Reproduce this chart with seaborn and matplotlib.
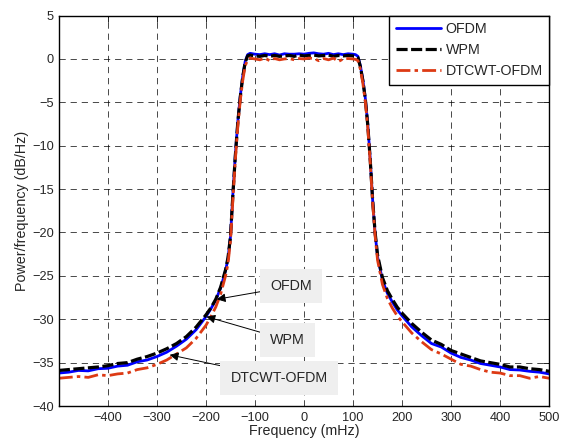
import numpy as np
import pandas as pd
import matplotlib
matplotlib.use("Agg")
import matplotlib.pyplot as plt
import seaborn as sns

freq = [-500, -480, -460, -440, -420, -400, -380, -360, -340, -320, -300, -280, -260, -240,
        -220, -200, -190, -180, -170, -160, -155, -150, -145, -140, -135, -130, -125, -120,
        -115, -110, -100, -90, -80, -70, -60, -50, -40, -30, -20, -10, 0, 10, 20, 30, 40,
        50, 60, 70, 80, 90, 100, 105, 110, 115, 120, 125, 130, 135, 140, 145, 150, 160, 170,
        180, 190, 200, 220, 240, 260, 280, 300, 320, 340, 360, 380, 400, 420, 440, 460, 480, 500]

ofdm = [-36.2, -36.1, -35.9, -35.95, -35.7, -35.65, -35.4, -35.3, -34.9, -34.7, -34.3, -33.8, -33.1, -32.3,
        -31.2, -29.7, -28.8, -27.8, -26.4, -24.4, -23.0, -20.5, -15.5, -11.0, -7.2, -4.3, -2.0, -0.3,
        0.5, 0.65, 0.55, 0.5, 0.6, 0.5, 0.6, 0.45, 0.6, 0.55, 0.55, 0.6, 0.55, 0.65, 0.7, 0.6, 0.55,
        0.65, 0.5, 0.6, 0.5, 0.6, 0.55, 0.5, 0.3, -0.8, -2.4, -4.5, -7.5, -11.5, -16.3, -20.1, -22.8, -25.5, -27.0,
        -28.0, -28.9, -29.6, -30.9, -31.9, -32.8, -33.2, -33.9, -34.4, -34.7, -35.1, -35.3, -35.5, -35.8, -35.85, -36.0, -36.1, -36.3]

wpm = [-35.9, -35.8, -35.7, -35.6, -35.5, -35.35, -35.1, -35.0, -34.6, -34.3, -33.9, -33.4, -32.8, -32.0,
       -30.9, -29.5, -28.7, -27.7, -26.3, -24.3, -22.9, -20.5, -15.6, -11.1, -7.3, -4.4, -2.1, -0.4,
       0.35, 0.45, 0.35, 0.3, 0.4, 0.3, 0.4, 0.3, 0.35, 0.4, 0.3, 0.45, 0.35, 0.4, 0.45, 0.35, 0.4,
       0.45, 0.3, 0.4, 0.35, 0.4, 0.35, 0.3, 0.15, -0.9, -2.5, -4.6, -7.6, -11.6, -16.3, -20.0, -22.6, -25.2, -26.7,
       -27.7, -28.6, -29.3, -30.5, -31.5, -32.4, -32.9, -33.6, -34.0, -34.4, -34.8, -35.0, -35.2, -35.5, -35.5, -35.7, -35.8, -36.0]

dtcwt = [-36.8, -36.7, -36.6, -36.7, -36.4, -36.5, -36.3, -36.2, -35.8, -35.6, -35.2, -34.7, -34.0, -33.3,
         -32.2, -30.7, -29.7, -28.6, -27.1, -25.0, -23.6, -21.0, -16.2, -11.6, -7.8, -4.8, -2.5, -0.8,
         -0.1, 0.1, 0.0, -0.1, 0.1, -0.2, 0.05, -0.1, 0.0, 0.05, -0.1, 0.05, 0.0, 0.1, 0.05, -0.2, 0.05,
         -0.1, 0.1, -0.3, 0.0, 0.05, 0.0, -0.05, -0.2, -1.2, -2.8, -4.9, -7.9, -11.9, -16.6, -20.4, -23.2, -26.0, -27.6,
         -28.7, -29.6, -30.3, -31.6, -32.6, -33.5, -34.0, -34.6, -35.2, -35.4, -35.8, -36.1, -36.2, -36.5, -36.5, -36.8, -36.6, -36.8]

series_names = ["OFDM", "WPM", "DTCWT-OFDM"]
x_ticks = [-400, -300, -200, -100, 0, 100, 200, 300, 400, 500]
y_ticks = [5, 0, -5, -10, -15, -20, -25, -30, -35, -40]

sns.set_style("white")
plt.rcParams["font.family"] = ["Liberation Sans", "DejaVu Sans"]
plt.rcParams["lines.scale_dashes"] = False

df = pd.DataFrame({
    "Frequency": freq * 3,
    "Power": ofdm + wpm + dtcwt,
    "Series": [series_names[0]] * len(freq) + [series_names[1]] * len(freq) + [series_names[2]] * len(freq),
})

fig = plt.figure(figsize=(5.65, 4.45), dpi=100)
ax = fig.add_axes([0.105, 0.0876, 0.867, 0.8774])

styles = {
    "OFDM": dict(color="#0000ff", lw=2.0, linestyle="-"),
    "WPM": dict(color="black", lw=2.3, linestyle=(0, (8, 2.5))),
    "DTCWT-OFDM": dict(color="#dd3a14", lw=2.0, linestyle=(0, (10, 3, 2.5, 3))),
}
for name in series_names:
    sub = df[df["Series"] == name]
    sns.lineplot(data=sub, x="Frequency", y="Power", ax=ax, label=name,
                 estimator=None, sort=False, **styles[name])

fs_tick = 9.2
fs_text = 10.3
ax.set_xlim(-499, 500)
ax.set_ylim(-40, 5)
ax.set_xticks(x_ticks)
ax.set_yticks(y_ticks)
ax.set_xlabel("Frequency (mHz)", fontsize=fs_text, labelpad=0)
ax.set_ylabel("Power/frequency (dB/Hz)", fontsize=fs_text, labelpad=2)
ax.tick_params(direction="in", length=4, width=0.6, labelsize=fs_tick, top=True, right=True,
               color="black", pad=4)
for s in ax.spines.values():
    s.set_color("black")
    s.set_linewidth(1.0)
ax.grid(True, color="black", linestyle=(0, (4.5, 3.5)), linewidth=0.5)
ax.set_axisbelow(True)

leg = ax.legend(loc="upper right", borderaxespad=0, fancybox=False, framealpha=1,
                edgecolor="black", fontsize=fs_text, handlelength=3.2, handletextpad=0.3,
                borderpad=0.45, labelspacing=0.5)
leg.get_frame().set_linewidth(1.0)

box = dict(boxstyle="square,pad=0.7", fc="#efefef", ec="none")
arrow = dict(arrowstyle="-|>", color="black", lw=0.7, mutation_scale=13, shrinkA=0, shrinkB=0)
ax.annotate("OFDM", xy=(-178, -27.7), xytext=(-26, -26.2), fontsize=fs_text, ha="center", va="center",
            bbox=box, arrowprops=arrow)
ax.annotate("WPM", xy=(-199, -29.7), xytext=(-34, -32.4), fontsize=fs_text, ha="center", va="center",
            bbox=box, arrowprops=arrow)
ax.annotate("DTCWT-OFDM", xy=(-274, -34.1), xytext=(-51, -36.8), fontsize=fs_text, ha="center", va="center",
            bbox=box, arrowprops=arrow)

fig.savefig("out.png", dpi=100)
